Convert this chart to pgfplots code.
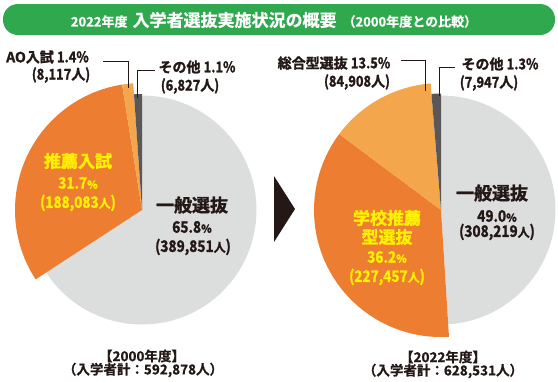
\documentclass[border=0pt]{standalone}
\usepackage{pgfplots}
\pgfplotsset{compat=1.18}
\usepackage{pgfplotstable}
\usepackage{fontspec}
\usepackage{graphicx}
\setmainfont{Noto Sans CJK JP}[BoldFont={Noto Sans CJK JP Bold}]
\newfontfamily\numf{Noto Sans CJK JP Bold}[FakeBold=1.7]
\newfontfamily\titf{Noto Sans CJK JP Bold}[FakeBold=0.8]
\definecolor{tgreen}{HTML}{30A84E}
\definecolor{pgray}{HTML}{DCDDDD}
\definecolor{porange}{HTML}{ED7D31}
\definecolor{plight}{HTML}{F3A64B}
\definecolor{pdark}{HTML}{595757}
\definecolor{ink}{HTML}{231815}
\definecolor{tyellow}{HTML}{FFF100}

% year 2000 : share (%), persons, colour, radius (px)
\pgfplotstableread{
cat pct count col rad
ippan 65.8 389851 pgray 114.5
suisen 31.7 188083 porange 127
ao 1.4 8117 plight 127
other 1.1 6827 pdark 116
}\tabA
% year 2022
\pgfplotstableread{
cat pct count col rad
ippan 49.0 308219 pgray 114.5
suisen 36.2 227457 porange 127
sogo 13.5 84908 plight 127
other 1.3 7947 pdark 116.5
}\tabB

\newcommand\drawpie[3]{%
  \pgfplotstablegetrowsof{#1}%
  \pgfmathtruncatemacro\nrows{\pgfplotsretval-1}%
  \xdef\cum{0}%
  \foreach \i in {0,...,\nrows}{%
    \pgfplotstablegetelem{\i}{pct}\of{#1}\let\slp\pgfplotsretval
    \pgfplotstablegetelem{\i}{rad}\of{#1}\let\slr\pgfplotsretval
    \pgfplotstablegetelem{\i}{col}\of{#1}\let\slc\pgfplotsretval
    \pgfmathsetmacro\sa{90-3.6*\cum}%
    \pgfmathsetmacro\ea{90-3.6*(\cum+\slp)}%
    \edef\cmd{\noexpand\fill[\slc] (axis cs:#2,#3) -- ++(\sa:\slr pt) arc[start angle=\sa, end angle=\ea, radius=\slr pt] -- cycle;}%
    \cmd
    \pgfmathsetmacro\newcum{\cum+\slp}%
    \xdef\cum{\newcum}%
  }%
}
\newcommand\fs[1]{\fontsize{#1}{#1}\numf}
\newcommand\ts[1]{\fontsize{#1}{#1}\titf}
\newcommand\cond[1]{\scalebox{0.92}[1.05]{\numf #1}}

\begin{document}
\begin{tikzpicture}
\begin{axis}[x=1pt,y=1pt,xmin=0,xmax=558,ymin=0,ymax=380,y dir=reverse,
  hide axis, scale only axis, clip=false, disabledatascaling,
  every node/.append style={inner sep=0pt}]
\path (axis cs:0,0) rectangle (axis cs:558,380);
% title bar
\fill[tgreen, rounded corners=15pt] (axis cs:3,4) rectangle (axis cs:555,35);
\node[white] at (axis cs:274,20) {\ts{13}2022年度\hspace{5pt}\ts{17}入学者選抜実施状況の概要\hspace{6pt}\ts{13}（2000年度との比較）};
% pies
\drawpie{\tabA}{142}{210}
\drawpie{\tabB}{441}{210}
% arrow
\fill[ink] (axis cs:274,176) -- (axis cs:295,209) -- (axis cs:274,242) -- cycle;
% leader lines
\draw[ink, line width=0.9pt] (axis cs:103,61) -- (axis cs:128,61) -- (axis cs:128,88);
\draw[ink, line width=0.9pt] (axis cs:137,98) -- (axis cs:137,70) -- (axis cs:155,70);
\draw[ink, line width=0.9pt] (axis cs:401,60) -- (axis cs:425,60) -- (axis cs:425,91);
\draw[ink, line width=0.9pt] (axis cs:439,96) -- (axis cs:439,67) -- (axis cs:455,67);
% left outer labels
\node[ink] at (axis cs:47.5,57) {\fs{14}AO入試 \cond{1.4\%}};
\node[ink] at (axis cs:61,75) {\fs{14}\cond{(8,117}人\cond{)}};
\node[ink] at (axis cs:197,67) {\fs{14}その他 \cond{1.1\%}};
\node[ink] at (axis cs:190,86) {\fs{14}\cond{(6,827}人\cond{)}};
% right outer labels
\node[ink] at (axis cs:334,63) {\fs{14}総合型選抜 \cond{13.5\%}};
\node[ink] at (axis cs:357,82) {\fs{14}\cond{(84,908}人\cond{)}};
\node[ink] at (axis cs:500,64) {\fs{14}その他 \cond{1.3\%}};
\node[ink] at (axis cs:489,83) {\fs{14}\cond{(7,947}人\cond{)}};
% left inner labels
\node[tyellow] at (axis cs:78,161) {\fs{17}推薦入試};
\node[tyellow] at (axis cs:78,183) {\fs{15}\cond{31.7}\fs{11}\%};
\node[tyellow] at (axis cs:78,203) {\fs{15}\cond{(188,083}\fs{12}人\fs{15}\cond{)}};
\node[ink] at (axis cs:192,205) {\fs{18}一般選抜};
\node[ink] at (axis cs:192,227) {\fs{15}\cond{65.8}\fs{11}\%};
\node[ink] at (axis cs:193,247) {\fs{15}\cond{(389,851}\fs{12}人\fs{15}\cond{)}};
% right inner labels
\node[ink] at (axis cs:492,193) {\fs{18}一般選抜};
\node[ink] at (axis cs:497,216) {\fs{15}\cond{49.0}\fs{11}\%};
\node[ink] at (axis cs:497,232) {\fs{15}\cond{(308,219}\fs{12}人\fs{15}\cond{)}};
\node[tyellow] at (axis cs:387,218) {\fs{17}学校推薦};
\node[tyellow] at (axis cs:387,237) {\fs{17}型選抜};
\node[tyellow] at (axis cs:387,257) {\fs{15}\cond{36.2}\fs{11}\%};
\node[tyellow] at (axis cs:387,277) {\fs{15}\cond{(227,457}\fs{12}人\fs{15}\cond{)}};
% bottom
\node[ink] at (axis cs:142,356) {\ts{13.5}【2000年度】};
\node[ink] at (axis cs:143,370) {\ts{13.5}（入学者計：592,878人）};
\node[ink] at (axis cs:443,357) {\ts{13.5}【2022年度】};
\node[ink] at (axis cs:443,371) {\ts{13.5}（入学者計：628,531人）};
\end{axis}
\end{tikzpicture}
\end{document}
